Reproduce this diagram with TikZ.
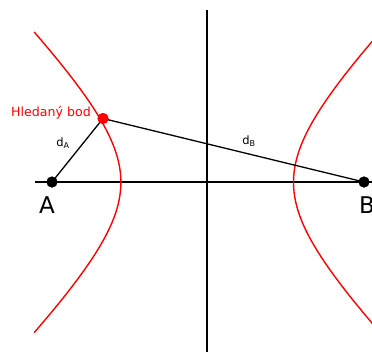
\documentclass[tikz,border=0pt]{standalone}
\usepackage{fontspec}
\setmainfont{DejaVu Sans}
\begin{document}
\begin{tikzpicture}[x=1pt,y=-1pt,
  axis/.style={line width=1.4pt,black},
  hyp/.style={line width=1.4pt,red},
  seg/.style={line width=1.3pt,black},
  dotb/.style={circle,fill=black,inner sep=0pt,minimum size=11pt},
  dotr/.style={circle,fill=red,inner sep=0pt,minimum size=11pt},
  big/.style={font=\fontsize{23}{26}\selectfont},
  dlab/.style={font=\fontsize{11.5}{13}\selectfont}]
\useasboundingbox (0,0) rectangle (372,351);
\fill[white] (0,0) rectangle (372,351);
% axes
\coordinate (xl) at (35,182);
\coordinate (xr) at (385,182);
\coordinate (yt) at (207,10);
\coordinate (yb) at (207,360);
\draw[axis] (xl) -- (xr);
\draw[axis] (yt) -- (yb);
% hyperbola branches
\draw[hyp,domain=-1.32:1.32,samples=80,smooth]
  plot ({207.2-86.3*cosh(\x)},{182.3+86.5*sinh(\x)});
\draw[hyp,domain=-1.32:1.32,samples=80,smooth]
  plot ({207.2+86.3*cosh(\x)},{182.3+86.5*sinh(\x)});
% points
\node[dotb] (A) at (52,182) {};
\node[dotb] (B) at (364,182) {};
\node[dotr] (P) at (103,118.5) {};
\draw[seg] (A.center) -- (P.center) -- (B.center);
\node[dotr] at (P) {};
\node[dotb] at (A) {};
\node[dotb] at (B) {};
% labels
\node[big] (la) at (47,205) {A};
\node[big] (lb) at (367,205) {B};
\node[red,font=\fontsize{12.6}{14}\selectfont,anchor=east,inner sep=0pt] (lp) at (91,113) {Hledaný bod};
\node[dlab] (lda) at (63,143) {d\textsubscript{A}};
\node[dlab] (ldb) at (249,141) {d\textsubscript{B}};
\end{tikzpicture}
\end{document}
